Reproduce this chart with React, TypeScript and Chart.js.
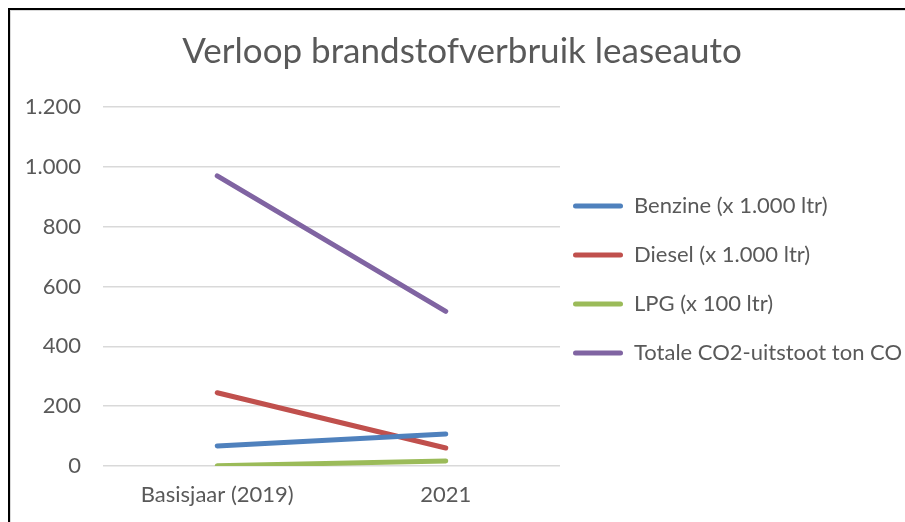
import React, { useEffect, useRef } from "react";
import { Chart, registerables } from "chart.js";

Chart.register(...registerables);

const title = "Verloop brandstofverbruik leaseauto";
const categories = ["Basisjaar (2019)", "2021"];
const seriesNames = [
  "Benzine (x 1.000 ltr)",
  "Diesel (x 1.000 ltr)",
  "LPG (x 100 ltr)",
  "Totale CO2-uitstoot ton CO2",
];
const benzine = [67, 107];
const diesel = [245, 60];
const lpg = [1, 17];
const co2 = [970, 517];
const seriesColors = ["#4F81BD", "#C0504D", "#9BBB59", "#8064A2"];
const yMin = 0;
const yMax = 1200;
const yStep = 200;

const FONT = "Lato, 'Open Sans', sans-serif";
const TEXT = "#595959";

function fmt(v: number): string {
  return String(v).replace(/\B(?=(\d{3})+(?!\d))/g, ".");
}

export default function App() {
  const ref = useRef<HTMLCanvasElement | null>(null);

  useEffect(() => {
    if (!ref.current) return;
    const values = [benzine, diesel, lpg, co2];
    const chart = new Chart(ref.current, {
      type: "line",
      data: {
        labels: categories,
        datasets: seriesNames.map((name, i) => ({
          label: name,
          data: values[i],
          borderColor: seriesColors[i],
          backgroundColor: seriesColors[i],
          borderWidth: 5,
          borderCapStyle: "round" as const,
          borderJoinStyle: "round" as const,
          pointRadius: 0,
          pointHoverRadius: 0,
          tension: 0,
          fill: false,
        })),
      },
      options: {
        responsive: false,
        animation: false,
        devicePixelRatio: 1,
        layout: { padding: { left: 10, right: 28, top: 0, bottom: 0 } },
        plugins: {
          tooltip: { enabled: false },
          title: {
            display: true,
            text: title,
            color: TEXT,
            font: { family: FONT, size: 35, weight: "normal", lineHeight: 1.2 },
            padding: { top: 20, bottom: 34 },
          },
          legend: {
            position: "right",
            align: "center",
            fullSize: false,
            maxWidth: 343,
            labels: {
              color: TEXT,
              font: { family: FONT, size: 22, lineHeight: 36 / 22 },
              boxWidth: 50,
              boxHeight: 5,
              padding: 13,
              generateLabels: (c: any) => {
                const items = Chart.defaults.plugins.legend.labels.generateLabels(c);
                return items.map((it: any, i: number) => ({
                  ...it,
                  text: [it.text],
                  fillStyle: seriesColors[i],
                  strokeStyle: seriesColors[i],
                  lineWidth: 0,
                  borderRadius: 2.5,
                }));
              },
            },
          },
        },
        scales: {
          x: {
            offset: true,
            grid: { display: false, drawTicks: false },
            border: { display: false },
            ticks: {
              color: TEXT,
              font: { family: FONT, size: 22 },
              padding: 16,
              maxRotation: 0,
            },
            afterFit: (s: any) => {
              s.height = 56;
            },
          },
          y: {
            min: yMin,
            max: yMax,
            grid: { color: "#D9D9D9", lineWidth: 1.5, drawTicks: false },
            border: { display: false },
            ticks: {
              stepSize: yStep,
              color: TEXT,
              font: { family: FONT, size: 22 },
              padding: 22,
              callback: (v: any) => fmt(Number(v)),
            },
            afterFit: (s: any) => {
              s.width = 82;
            },
          },
        },
      },
    });
    return () => chart.destroy();
  }, []);

  return (
    <div style={{ position: "fixed", left: 0, top: 0, width: 905, height: 522, overflow: "hidden", background: "#fff" }}>
      <div style={{ position: "absolute", left: 8, top: 8, width: 930, height: 530, border: "2px solid #000", boxSizing: "border-box", background: "#fff" }}>
        <div style={{ border: "1px solid #D9D9D9", width: 926, height: 526, boxSizing: "border-box" }}>
          <canvas ref={ref} width={920} height={511} style={{ display: "block" }} />
        </div>
      </div>
    </div>
  );
}
